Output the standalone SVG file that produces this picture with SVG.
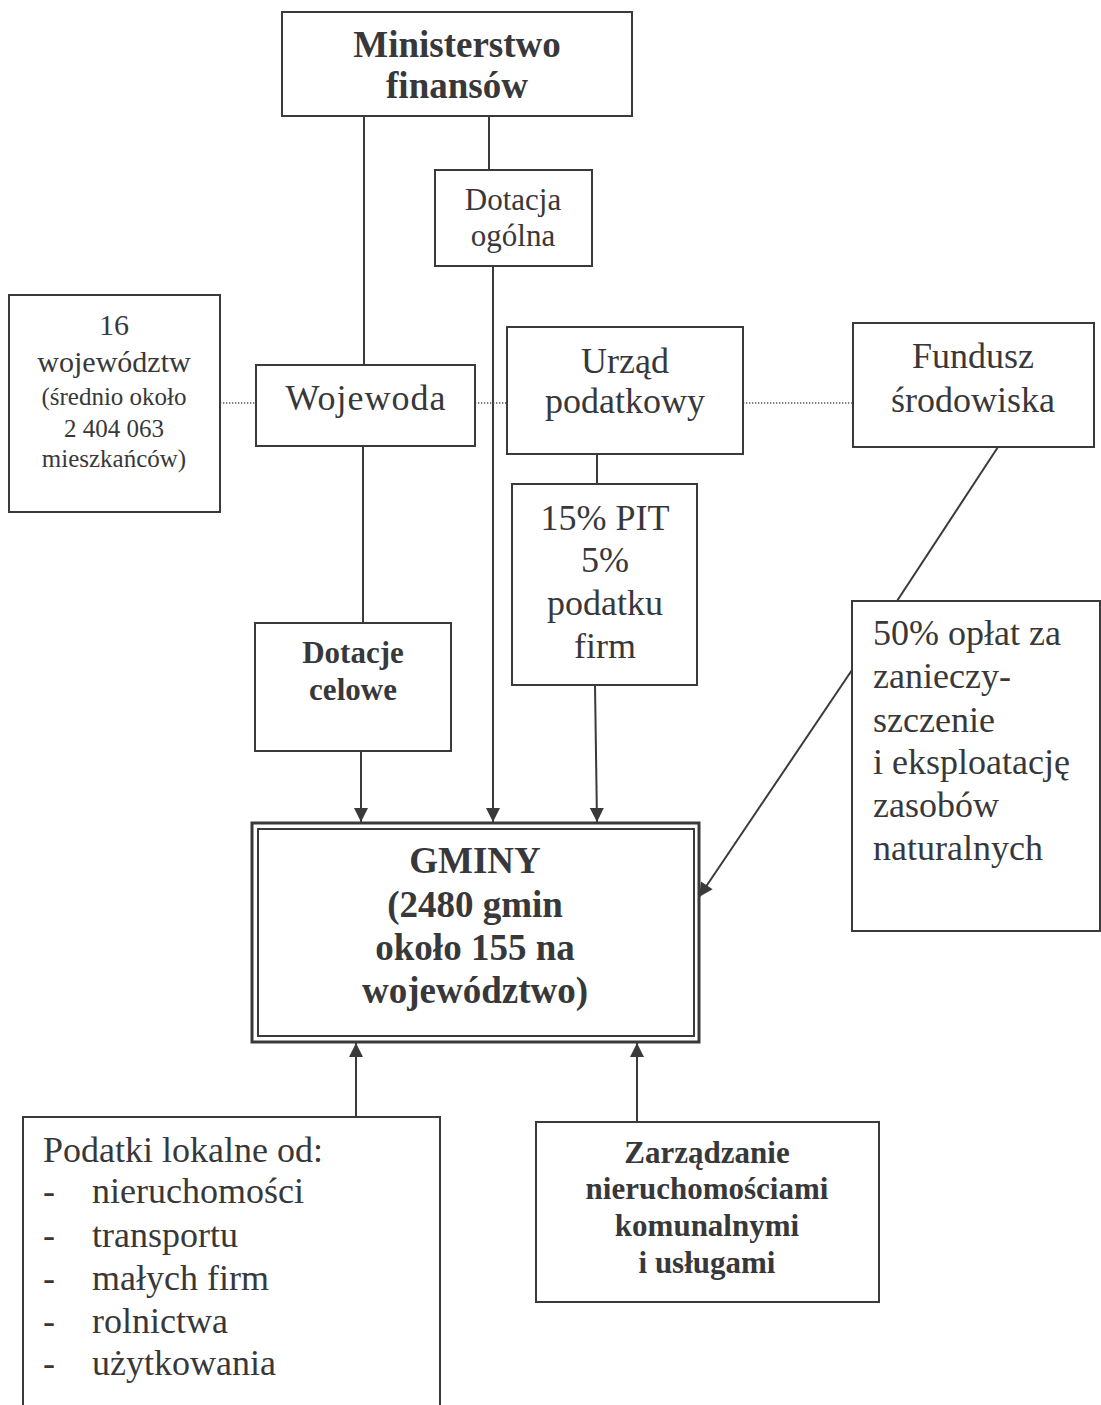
<svg xmlns="http://www.w3.org/2000/svg" width="1101" height="1405" viewBox="0 0 1101 1405">
<style>
  .box{fill:#fff;stroke:#3a3a3c;stroke-width:2}
  .ln{fill:none;stroke:#3a3a3c;stroke-width:2}
  .dot{fill:none;stroke:#555;stroke-width:1.3;stroke-dasharray:1.3 1.7}
  text{font-family:"Liberation Serif","Times New Roman",serif;fill:#38383a}
  .c{text-anchor:middle}
  .r36{font-size:36px}
  .r31{font-size:31px}
  .r30{font-size:30px}
  .r25{font-size:25px}
  .b37{font-size:37px;font-weight:bold}
  .b31{font-size:31px;font-weight:bold}
</style>
<defs>
  <marker id="ah" markerUnits="userSpaceOnUse" markerWidth="16" markerHeight="16" viewBox="0 0 16 16" refX="15" refY="8" orient="auto">
    <path d="M1,1 L15,8 L1,15 Z" fill="#3a3a3c"/>
  </marker>
</defs>
<rect width="1101" height="1405" fill="#fff"/>

<g id="connectors">
  <line class="ln" x1="364" y1="116" x2="364" y2="365"/>
  <line class="ln" x1="489" y1="116" x2="489" y2="170"/>
  <line class="ln" x1="363" y1="446" x2="363" y2="623"/>
  <line class="ln" x1="361" y1="751" x2="361" y2="822" marker-end="url(#ah)"/>
  <line class="ln" x1="493" y1="266" x2="493" y2="822" marker-end="url(#ah)"/>
  <line class="ln" x1="597" y1="454" x2="597" y2="484"/>
  <line class="ln" x1="595" y1="685" x2="597" y2="822" marker-end="url(#ah)"/>
  <line class="ln" x1="998" y1="447" x2="897" y2="601"/>
  <line class="ln" x1="852" y1="670" x2="699" y2="897" marker-end="url(#ah)"/>
  <line class="ln" x1="356" y1="1117" x2="356" y2="1043" marker-end="url(#ah)"/>
  <line class="ln" x1="637" y1="1122" x2="637" y2="1043" marker-end="url(#ah)"/>
  <line class="dot" x1="220" y1="403" x2="256" y2="403"/>
  <line class="dot" x1="475" y1="403" x2="507" y2="403"/>
  <line class="dot" x1="743" y1="403" x2="853" y2="403"/>
</g>

<g id="ministerstwo">
  <rect class="box" x="282" y="12" width="350" height="104"/>
  <text class="b37 c" x="457" y="57">Ministerstwo</text>
  <text class="b37 c" x="457" y="98">finansów</text>
</g>

<g id="dotacja-ogolna">
  <rect class="box" x="435" y="170" width="157" height="96"/>
  <text class="r31 c" x="513" y="210">Dotacja</text>
  <text class="r31 c" x="513" y="246">ogólna</text>
</g>

<g id="wojewodztwa">
  <rect class="box" x="9" y="295" width="211" height="217"/>
  <text class="r30 c" x="114" y="335">16</text>
  <text class="r30 c" x="114" y="372">województw</text>
  <text class="r25 c" x="114" y="405">(średnio około</text>
  <text class="r25 c" x="114" y="437">2 404 063</text>
  <text class="r25 c" x="114" y="467">mieszkańców)</text>
</g>

<g id="wojewoda">
  <rect class="box" x="256" y="365" width="219" height="81"/>
  <text class="r36 c" x="366" y="410" letter-spacing="1">Wojewoda</text>
</g>

<g id="urzad">
  <rect class="box" x="507" y="327" width="236" height="127"/>
  <text class="r36 c" x="625" y="373">Urząd</text>
  <text class="r36 c" x="625" y="413">podatkowy</text>
</g>

<g id="fundusz">
  <rect class="box" x="853" y="323" width="241" height="124"/>
  <text class="r36 c" x="973" y="368">Fundusz</text>
  <text class="r36 c" x="973" y="412">środowiska</text>
</g>

<g id="pit">
  <rect class="box" x="512" y="484" width="185" height="201"/>
  <text class="r36 c" x="605" y="530">15% PIT</text>
  <text class="r36 c" x="605" y="572">5%</text>
  <text class="r36 c" x="605" y="615">podatku</text>
  <text class="r36 c" x="605" y="658">firm</text>
</g>

<g id="dotacje-celowe">
  <rect class="box" x="255" y="623" width="196" height="128"/>
  <text class="b31 c" x="353" y="663">Dotacje</text>
  <text class="b31 c" x="353" y="700">celowe</text>
</g>

<g id="oplaty">
  <rect class="box" x="852" y="601" width="248" height="330"/>
  <text class="r36" x="873" y="645">50% opłat za</text>
  <text class="r36" x="873" y="688">zanieczy-</text>
  <text class="r36" x="873" y="732">szczenie</text>
  <text class="r36" x="873" y="774">i eksploatację</text>
  <text class="r36" x="873" y="817">zasobów</text>
  <text class="r36" x="873" y="860">naturalnych</text>
</g>

<g id="gminy">
  <rect fill="#fff" stroke="#3a3a3c" stroke-width="3" x="252" y="823" width="447" height="219"/>
  <rect fill="none" stroke="#3a3a3c" stroke-width="2" x="258" y="829" width="436" height="207"/>
  <text class="b37 c" x="475" y="873">GMINY</text>
  <text class="b37 c" x="475" y="917">(2480 gmin</text>
  <text class="b37 c" x="475" y="960">około 155 na</text>
  <text class="b37 c" x="475" y="1003">województwo)</text>
</g>

<g id="podatki-lokalne">
  <rect class="box" x="23" y="1117" width="417" height="320"/>
  <text class="r36" x="43" y="1162">Podatki lokalne od:</text>
  <text class="r36" x="43" y="1203">-</text><text class="r36" x="92" y="1203">nieruchomości</text>
  <text class="r36" x="43" y="1247">-</text><text class="r36" x="92" y="1247">transportu</text>
  <text class="r36" x="43" y="1290">-</text><text class="r36" x="92" y="1290">małych firm</text>
  <text class="r36" x="43" y="1333">-</text><text class="r36" x="92" y="1333">rolnictwa</text>
  <text class="r36" x="43" y="1375">-</text><text class="r36" x="92" y="1375">użytkowania</text>
</g>

<g id="zarzadzanie">
  <rect class="box" x="536" y="1122" width="343" height="180"/>
  <text class="b31 c" x="707" y="1163">Zarządzanie</text>
  <text class="b31 c" x="707" y="1199">nieruchomościami</text>
  <text class="b31 c" x="707" y="1236">komunalnymi</text>
  <text class="b31 c" x="707" y="1273">i usługami</text>
</g>
</svg>
